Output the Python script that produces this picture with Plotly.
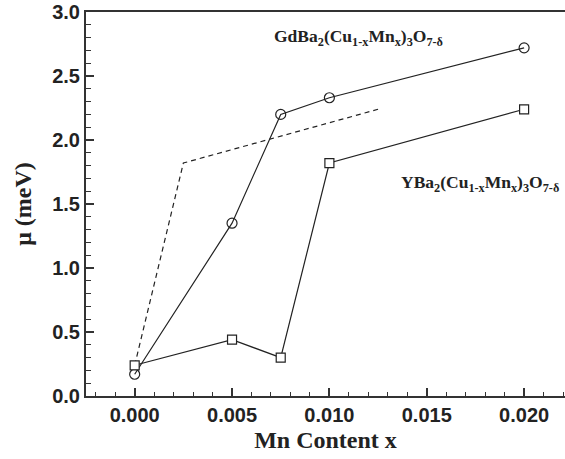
import plotly.graph_objects as go

mn_x = [0.0, 0.005, 0.0075, 0.010, 0.020]
gd_mu = [0.17, 1.35, 2.20, 2.33, 2.72]
y_mu = [0.24, 0.44, 0.30, 1.82, 2.24]
dash_x = [0.0, 0.0025, 0.0125]
dash_mu = [0.24, 1.82, 2.24]

x_ticks = [0.0, 0.005, 0.010, 0.015, 0.020]
y_ticks = [0.0, 0.5, 1.0, 1.5, 2.0, 2.5, 3.0]

line_col = "#222222"

fig = go.Figure()
fig.add_trace(go.Scatter(x=dash_x, y=dash_mu, mode="lines",
                         line=dict(color=line_col, width=1.2, dash="5px,4px"),
                         showlegend=False))
fig.add_trace(go.Scatter(x=mn_x, y=gd_mu, mode="lines+markers",
                         line=dict(color=line_col, width=1.2),
                         marker=dict(symbol="circle-open", size=10, color=line_col, line=dict(width=1.2)),
                         showlegend=False))
fig.add_trace(go.Scatter(x=mn_x, y=y_mu, mode="lines+markers",
                         line=dict(color=line_col, width=1.2),
                         marker=dict(symbol="square", size=9, color="white", line=dict(width=1.2, color=line_col)),
                         showlegend=False))

serif = "Liberation Serif"
fig.add_annotation(x=0.00706, y=2.80, xref="x", yref="y", xanchor="left", yanchor="middle",
                   text="GdBa<sub>2</sub>(Cu<sub>1-x</sub>Mn<sub>x</sub>)<sub>3</sub>O<sub>7-δ</sub>",
                   showarrow=False, font=dict(family=serif, size=17.5, color="#222", weight="bold"))
fig.add_annotation(x=0.01356, y=1.66, xref="x", yref="y", xanchor="left", yanchor="middle",
                   text="YBa<sub>2</sub>(Cu<sub>1-x</sub>Mn<sub>x</sub>)<sub>3</sub>O<sub>7-δ</sub>",
                   showarrow=False, font=dict(family=serif, size=17.5, color="#222", weight="bold"))

fig.update_layout(
    width=565, height=459,
    margin=dict(l=86, r=0, t=12, b=63, autoexpand=False),
    plot_bgcolor="white", paper_bgcolor="white",
    showlegend=False,
)
fig.update_xaxes(
    range=[-0.0025, 0.0221], showgrid=False, zeroline=False,
    showline=True, linecolor="#333", linewidth=2, mirror=True,
    tickmode="array", tickvals=x_ticks, ticktext=[f"{v:.3f}" for v in x_ticks],
    ticks="inside", ticklen=8, tickwidth=1.5, tickcolor="#333",
    minor=dict(dtick=0.001, tick0=0, ticks="inside", ticklen=4, tickwidth=1.2, tickcolor="#333"),
    tickfont=dict(family="Liberation Sans", size=20, color="#222", weight="bold"),
    title=dict(text="Mn Content x", font=dict(family=serif, size=24, color="#222", weight="bold"), standoff=6),
    automargin=False,
)
fig.update_yaxes(
    range=[0, 3.0], showgrid=False, zeroline=False,
    showline=True, linecolor="#333", linewidth=2, mirror=False,
    tickmode="array", tickvals=y_ticks, ticktext=[f"{v:.1f}" for v in y_ticks],
    ticks="inside", ticklen=8, tickwidth=1.5, tickcolor="#333",
    minor=dict(dtick=0.1, tick0=0, ticks="inside", ticklen=5, tickwidth=1.2, tickcolor="#333"),
    tickfont=dict(family="Liberation Sans", size=20, color="#222", weight="bold"),
    title=dict(text="μ (meV)", font=dict(family=serif, size=24, color="#222", weight="bold"), standoff=14),
    automargin=False,
)

css_js = (
    "var s=document.createElement('style');"
    "s.textContent='html,body{margin:0;padding:0;overflow:hidden;}';"
    "document.head.appendChild(s);"
)

fig.write_html("out.html",
               config={"displayModeBar": False},
               post_script=css_js)
